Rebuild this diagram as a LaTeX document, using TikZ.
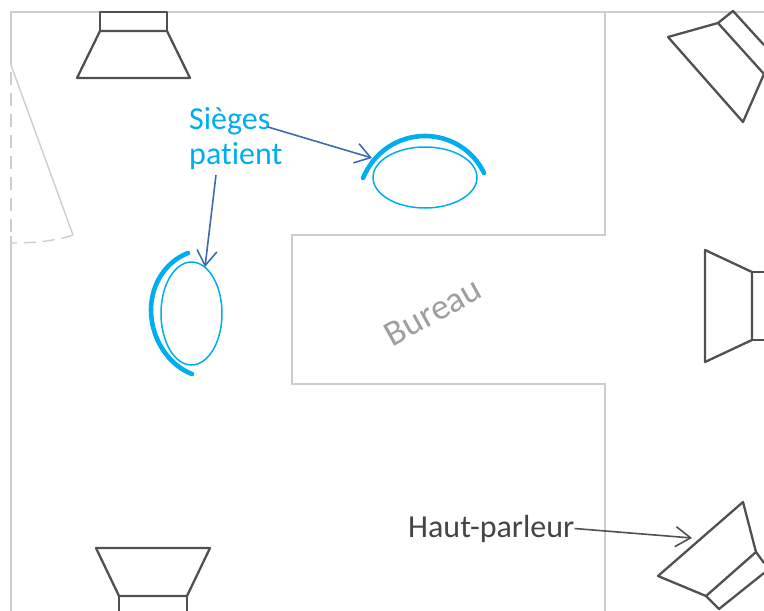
\documentclass[tikz,border=0pt]{standalone}
\usepackage{fontspec}
\setmainfont[Ligatures=NoCommon]{Carlito}
\usetikzlibrary{arrows.meta,shapes.geometric}
\definecolor{wall}{HTML}{CDCDCD}
\definecolor{spk}{HTML}{505050}
\definecolor{cyanx}{HTML}{00AEEF}
\definecolor{arrowblue}{HTML}{4169B0}
\tikzset{
 wallline/.style={draw=wall,line width=2.2pt},
 doorline/.style={draw=wall,line width=1.4pt},
 speaker/.style={draw=spk,line width=2.3pt,line join=round},
 seat/.style={shape=ellipse,draw=cyanx,line width=1.5pt,inner sep=0pt},
 backrest/.style={draw=cyanx,line width=4.6pt,line cap=round},
 label/.style={inner sep=0pt,font=\fontsize{32}{35}\selectfont,align=left},
 pointer/.style={line width=1.6pt,-{Straight Barb[length=15pt,width=20pt,line width=1.6pt]}}
}
\begin{document}
\begin{tikzpicture}[x=1pt,y=-1pt]
\useasboundingbox (0,0) rectangle (764,611);
% walls
\draw[wallline] (11,65) -- (11,12) -- (764,12);
\draw[wallline] (605,12) -- (605,235) -- (292,235) -- (292,384) -- (605,384) -- (605,611);
\draw[wallline] (11,236) -- (11,611);
% door
\draw[doorline] (11,65) -- (73,235);
\draw[doorline,dash pattern=on 12pt off 7pt] (73,235) .. controls (55,241) and (35,243) .. (11,243);
\draw[doorline,dash pattern=on 13pt off 8pt] (11,72) -- (11,236);
% speakers
\draw[speaker] (100,12) -- (167,12) -- (167,31) -- (100,31) -- cycle;
\draw[speaker] (100,31) -- (167,31) -- (190,78) -- (77,78) -- cycle;
\draw[speaker] (96,548) -- (210,548) -- (187,596) -- (119,596) -- cycle;
\draw[speaker] (119,596) -- (119,611) (187,596) -- (187,611);
\draw[speaker] (705,250) -- (752,272) -- (752,340) -- (705,362) -- cycle;
\draw[speaker] (752,272) -- (764,272) (752,340) -- (764,340);
\draw[speaker] (668,37) -- (718,23) -- (764,74) -- (743,122) -- cycle;
\draw[speaker] (718,23) -- (733,11) -- (764,45);
\draw[speaker] (743,502) -- (658,576) -- (706,596) -- (756,552) -- cycle;
\draw[speaker] (756,552) -- (764,563) (706,596) -- (719,609) -- (764,573);
% seats
\node[seat,minimum width=104pt,minimum height=61pt] (seatA) at (425,177.5) {};
\node[seat,minimum width=61pt,minimum height=103pt] (seatB) at (191.5,313.5) {};
\draw[backrest] (363,178) .. controls (375,150) and (400,136) .. (425,136) .. controls (450,136) and (473,150) .. (484,173);
\draw[backrest] (188,253) .. controls (165,262) and (151,285) .. (151,310) .. controls (151,338) and (168,365) .. (192,374);
% labels
\node[label,text=cyanx,anchor=north west] (sieges) at (189,107) {Sièges\\patient};
\node[label,text=spk!85!black,anchor=west] (hp) at (408,528.5) {Haut-parleur};
\node[inner sep=0pt,font=\fontsize{36}{40}\selectfont,text=black!38,rotate=29] (bureau) at (433,312) {Bureau};
% connectors
\coordinate (sA) at (268,127);
\coordinate (sB) at (216,175);
\coordinate (tA) at (372,158);
\coordinate (tB) at (205,267);
\coordinate (tC) at (692,538);
\draw[pointer,draw=arrowblue] (sA) -- (tA);
\draw[pointer,draw=arrowblue] (sB) -- (tB);
\draw[pointer,draw=spk] (hp.east) -- (tC);
\end{tikzpicture}
\end{document}
